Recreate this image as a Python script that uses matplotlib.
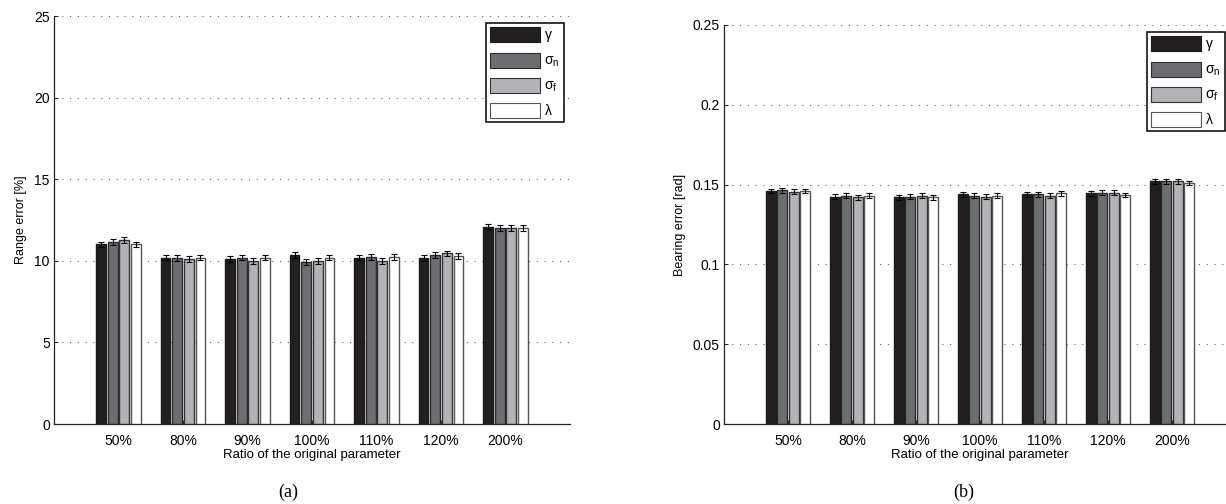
import matplotlib
matplotlib.use('Agg')
import matplotlib.pyplot as plt
import numpy as np
from matplotlib.patches import Patch

plt.rcParams['font.family'] = ['Liberation Sans', 'DejaVu Sans']
plt.rcParams['mathtext.fontset'] = 'custom'
plt.rcParams['mathtext.rm'] = 'Liberation Sans'
plt.rcParams['mathtext.it'] = 'Liberation Sans:italic'

# data
categories = ['50%', '80%', '90%', '100%', '110%', '120%', '200%']
series_labels = [r'$\mathrm{\gamma}$', r'$\mathrm{\sigma_n}$', r'$\mathrm{\sigma_f}$', r'$\mathrm{\lambda}$']

range_gamma = [11.0, 10.2, 10.1, 10.35, 10.2, 10.15, 12.1]
range_sigma_n = [11.15, 10.15, 10.2, 9.95, 10.25, 10.35, 12.0]
range_sigma_f = [11.3, 10.1, 10.0, 10.0, 10.0, 10.45, 12.0]
range_lambda = [11.0, 10.2, 10.2, 10.2, 10.25, 10.3, 12.0]
range_err = [0.18, 0.18, 0.18, 0.18]

bearing_gamma = [0.146, 0.1425, 0.142, 0.144, 0.144, 0.1445, 0.152]
bearing_sigma_n = [0.1465, 0.143, 0.1425, 0.143, 0.144, 0.145, 0.152]
bearing_sigma_f = [0.1455, 0.142, 0.143, 0.1425, 0.143, 0.145, 0.152]
bearing_lambda = [0.146, 0.143, 0.142, 0.143, 0.1445, 0.1435, 0.151]
bearing_err = [0.0015, 0.0015, 0.0015, 0.0015]

colors = ['#231f20', '#6d6e71', '#b1b3b6', '#ffffff']
edges = ['#1a1a1a', '#2a2a2a', '#333333', '#555555']

W, H = 1226, 504
fig = plt.figure(figsize=(W / 100, H / 100), dpi=100)


def px_axes(left, top, right, bottom):
    return fig.add_axes([left / W, 1 - bottom / H, (right - left) / W, (bottom - top) / H])


def draw_panel(ax, series, errs, ylim, yticks, yticklabels, ylabel):
    x = np.arange(1, len(categories) + 1)
    pitch = 0.18
    width = 0.15
    for i, vals in enumerate(series):
        pos = x + (i - 1.5) * pitch
        ax.bar(pos, vals, width, color=colors[i], edgecolor=edges[i], linewidth=1.0, zorder=3)
        ax.errorbar(pos, vals, yerr=errs[i], fmt='none', ecolor='black',
                    elinewidth=0.8, capsize=2.5, capthick=0.8, zorder=4)
    ax.set_xlim(0, 8)
    ax.set_ylim(*ylim)
    ax.set_xticks(x)
    ax.set_xticklabels(categories, fontsize=10)
    ax.set_yticks(yticks)
    ax.set_yticklabels(yticklabels, fontsize=10)
    ax.tick_params(direction='in', length=3, width=0.6, pad=3)
    ax.tick_params(axis='x', pad=7)
    ax.grid(axis='y', linestyle=(0, (1, 6)), color='#666666', linewidth=0.8, zorder=0)
    for s in ['top', 'right']:
        ax.spines[s].set_visible(False)
    for s in ['left', 'bottom']:
        ax.spines[s].set_color('#222222')
        ax.spines[s].set_linewidth(0.9)
    ax.set_xlabel('Ratio of the original parameter', fontsize=9.5, labelpad=1)
    ax.set_ylabel(ylabel, fontsize=9, labelpad=5)


def add_legend(ax, right_px, top_px):
    handles = [Patch(facecolor=colors[i], edgecolor=edges[i], linewidth=0.8) for i in range(4)]
    leg = ax.legend(handles, series_labels, loc='upper right',
                    bbox_to_anchor=(right_px / W, 1 - top_px / H), bbox_transform=fig.transFigure,
                    fontsize=10, handlelength=3.6, handleheight=1.3, labelspacing=0.6,
                    handletextpad=0.3, borderpad=0.3, borderaxespad=0, fancybox=False,
                    framealpha=1, edgecolor='black')
    leg.get_frame().set_linewidth(1.1)
    leg.set_zorder(10)


ax1 = px_axes(54, 16, 570, 424)
draw_panel(ax1, [range_gamma, range_sigma_n, range_sigma_f, range_lambda], range_err,
           (0, 25), [0, 5, 10, 15, 20, 25], ['0', '5', '10', '15', '20', '25'], 'Range error [%]')
add_legend(ax1, 564, 23)

ax2 = px_axes(724, 25, 1236, 424)
draw_panel(ax2, [bearing_gamma, bearing_sigma_n, bearing_sigma_f, bearing_lambda], bearing_err,
           (0, 0.25), [0, 0.05, 0.1, 0.15, 0.2, 0.25], ['0', '0.05', '0.1', '0.15', '0.2', '0.25'],
           'Bearing error [rad]')
add_legend(ax2, 1225, 32)

fig.text(288 / W, 1 - 492 / H, '(a)', ha='center', va='center', fontsize=13, family='Liberation Serif')
fig.text(964 / W, 1 - 492 / H, '(b)', ha='center', va='center', fontsize=13, family='Liberation Serif')

fig.savefig('out.png', dpi=100)
